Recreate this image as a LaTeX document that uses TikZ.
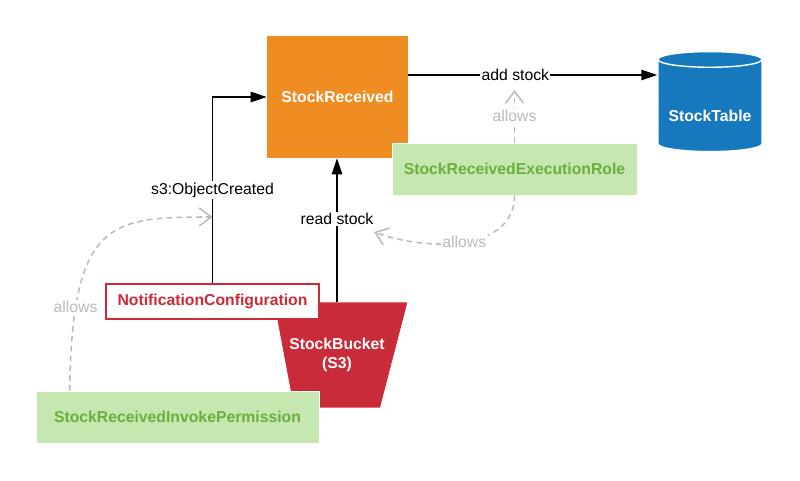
\documentclass[tikz,border=0pt]{standalone}
\usepackage{fontspec}
\setmainfont{Liberation Sans}
\usepackage{xcolor}
\usepackage{tikz}
\usetikzlibrary{shapes.geometric,arrows.meta}

\definecolor{lambdaorange}{HTML}{EF8C22}
\definecolor{tableblue}{HTML}{1679BE}
\definecolor{bucketred}{HTML}{C92B38}
\definecolor{permgreen}{HTML}{C6E7B0}
\definecolor{permtext}{HTML}{6AAE3C}
\definecolor{allowgray}{HTML}{BBBBBB}
\newcommand{\dfont}{\fontsize{11.2}{13.5}\selectfont}

\begin{document}
\begin{tikzpicture}[x=0.025cm, y=-0.025cm, font=\dfont,
    lambda/.style={rectangle, fill=lambdaorange, text=white, font=\dfont\bfseries, minimum width=3.525cm, minimum height=3.05cm},
    table/.style={cylinder, shape border rotate=90, aspect=0.17, draw=white, line width=1pt, fill=tableblue, text=white, font=\dfont\bfseries, minimum width=2.6cm, minimum height=2.5cm},
    bucket/.style={trapezium, shape border rotate=180, trapezium left angle=75, trapezium right angle=79, trapezium stretches=true, inner xsep=0pt, inner ysep=0.85cm, fill=bucketred, text=white, font=\dfont\bfseries, align=center, minimum width=3.35cm, minimum height=2.625cm},
    notif/.style={rectangle, draw=bucketred, line width=1pt, fill=white, text=bucketred, font=\dfont\bfseries, minimum width=5.325cm, minimum height=0.875cm},
    perm/.style={rectangle, draw=white, fill=permgreen, text=permtext, font=\dfont\bfseries, minimum height=1.3cm},
    flow/.style={-{Triangle[length=0.4cm, width=0.26cm]}, line width=1.1pt},
    allow/.style={-{Straight Barb[length=0.3cm, width=0.45cm]}, allowgray, line width=1.1pt, dash pattern=on 4pt off 3pt},
    lbl/.style={fill=white, inner sep=1pt, text=black},
    albl/.style={fill=white, inner sep=1pt, text=allowgray}]

    \useasboundingbox (0,0) rectangle (800,480);

    \node[lambda] (SR) at (337.5,97) {StockReceived};
    \node[table] (ST) at (710,107.5) {\raisebox{-0.35cm}[0pt][0pt]{StockTable}};
    \node[bucket] (BK) at (337,355) {\makebox[2.15cm]{StockBucket}\\(S3)};
    \node[notif] (NC) at (212.5,301.5) {NotificationConfiguration};
    \node[perm, minimum width=7.075cm] (IP) at (177.5,417) {StockReceivedInvokePermission};
    \node[perm, minimum width=6.125cm] (ER) at (514.5,169) {StockReceivedExecutionRole};

    \coordinate (addstock) at (514.5,90);
    \coordinate (readstock) at (374,232);
    \coordinate (objcreated) at (212.5,217);

    \draw[flow] ([yshift=0.55cm]SR.east) -- node[lbl, pos=0.43] {add stock} ([yshift=0.55cm]SR.east -| ST.west);
    \draw[flow] (BK.north) -- node[lbl, pos=0.58] {read stock} (BK.north |- SR.south);
    \draw[flow] (NC.north) |- node[lbl, pos=0.25] {s3:ObjectCreated} (SR.west);

    \draw[allow] (ER.north) -- node[albl] {allows} (addstock);
    \draw[allow] (ER.south) to[out=-90, in=-20] node[albl, pos=0.5] {allows} (readstock);
    \draw[allow] ([xshift=0.85cm]IP.north west) .. controls (72,220) and (110,217) .. node[albl, pos=0.2] {allows} (objcreated);
\end{tikzpicture}
\end{document}
